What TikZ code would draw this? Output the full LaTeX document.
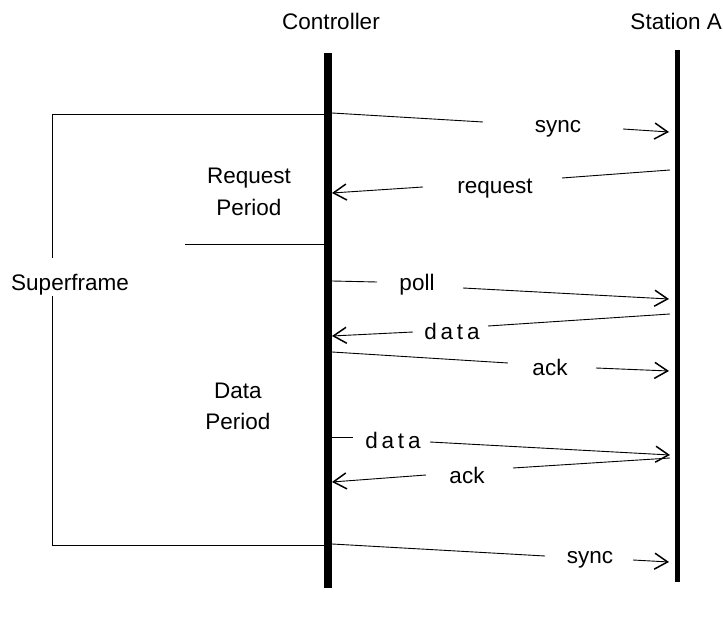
\documentclass[tikz,border=0pt]{standalone}
\usepackage{fontspec}
\setmainfont{Liberation Sans}
\usetikzlibrary{arrows.meta}
\begin{document}
\begin{tikzpicture}[x=1pt,y=-1pt,
  lbl/.style={inner sep=0pt, font=\fontsize{22.5}{27}\selectfont},
  msglbl/.style={lbl, yshift=-3pt},
  thin line/.style={line width=0.9pt},
  msg/.style={thin line, -{Straight Barb[length=13pt,width=16pt,line width=1.5pt]}},
  lifeline/.style={line width=#1}]
\useasboundingbox (0,0) rectangle (723,617);

% lifelines
\coordinate (ctop) at (328,53);  \coordinate (cbot) at (328,588);
\coordinate (stop) at (677,50);  \coordinate (sbot) at (677,582);
\draw[lifeline=8pt] (ctop) -- (cbot);
\draw[lifeline=5pt] (stop) -- (sbot);
\node[lbl] (ctrl) at (331,21) {Controller};
\node[lbl, anchor=east] (sta) at (722,21) {Station A};

% superframe bracket
\coordinate (sfa) at (324,114); \coordinate (sfb) at (52,114);
\coordinate (sfc) at (52,258);  \coordinate (sfd) at (52,296);
\coordinate (sfe) at (52,545);  \coordinate (sff) at (324,545);
\draw[thin line] (sfa) -- (sfb) -- (sfc);
\draw[thin line] (sfd) -- (sfe) -- (sff);
\node[lbl] (sf) at (70,285) {Superframe};

% period divider and labels
\coordinate (pda) at (185,244); \coordinate (pdb) at (324,244);
\draw[thin line] (pda) -- (pdb);
\node[lbl, align=center] (req) at (249,192) {Request\\[5pt]Period};
\node[lbl, align=center] (dat) at (238,406) {Data\\[4pt]Period};

% sync
\coordinate (m1a) at (332,113); \coordinate (m1b) at (483,122);
\coordinate (m1c) at (623,129); \coordinate (m1d) at (669,132);
\draw[thin line] (m1a) -- (m1b);
\node[msglbl] (t1) at (558,126) {sync};
\draw[msg] (m1c) -- (m1d);

% request
\coordinate (m2a) at (670,170); \coordinate (m2b) at (562,178);
\coordinate (m2c) at (423,187); \coordinate (m2d) at (332,193);
\draw[thin line] (m2a) -- (m2b);
\node[msglbl] (t2) at (495,186) {request};
\draw[msg] (m2c) -- (m2d);

% poll
\coordinate (m3a) at (332,281); \coordinate (m3b) at (377,282);
\coordinate (m3c) at (463,288); \coordinate (m3d) at (669,299);
\draw[thin line] (m3a) -- (m3b);
\node[msglbl] (t3) at (417,282) {poll};
\draw[msg] (m3c) -- (m3d);

% data (station to controller)
\coordinate (m4a) at (670,314); \coordinate (m4b) at (488,326);
\coordinate (m4c) at (413,332); \coordinate (m4d) at (332,336);
\draw[thin line] (m4a) -- (m4b);
\node[msglbl] (t4) at (452,328) {d\,a\,t\,a};
\draw[msg] (m4c) -- (m4d);

% ack (controller to station)
\coordinate (m5a) at (332,352); \coordinate (m5b) at (508,363);
\coordinate (m5c) at (596,368); \coordinate (m5d) at (669,371);
\draw[thin line] (m5a) -- (m5b);
\node[msglbl] (t5) at (550,364) {ack};
\draw[msg] (m5c) -- (m5d);

% data (controller to station)
\coordinate (m6a) at (332,437); \coordinate (m6b) at (353,437);
\coordinate (m6c) at (430,442); \coordinate (m6d) at (670,455);
\draw[thin line] (m6a) -- (m6b);
\node[msglbl] (t6) at (393,437) {d\,a\,t\,a};
\draw[msg] (m6c) -- (m6d);

% ack (station to controller)
\coordinate (m7a) at (670,458); \coordinate (m7b) at (513,468);
\coordinate (m7c) at (426,475); \coordinate (m7d) at (332,482);
\draw[thin line] (m7a) -- (m7b);
\node[msglbl] (t7) at (467,472) {ack};
\draw[msg] (m7c) -- (m7d);

% sync
\coordinate (m8a) at (332,544); \coordinate (m8b) at (545,556);
\coordinate (m8c) at (633,560); \coordinate (m8d) at (669,562);
\draw[thin line] (m8a) -- (m8b);
\node[msglbl] (t8) at (590,557) {sync};
\draw[msg] (m8c) -- (m8d);
\end{tikzpicture}
\end{document}
